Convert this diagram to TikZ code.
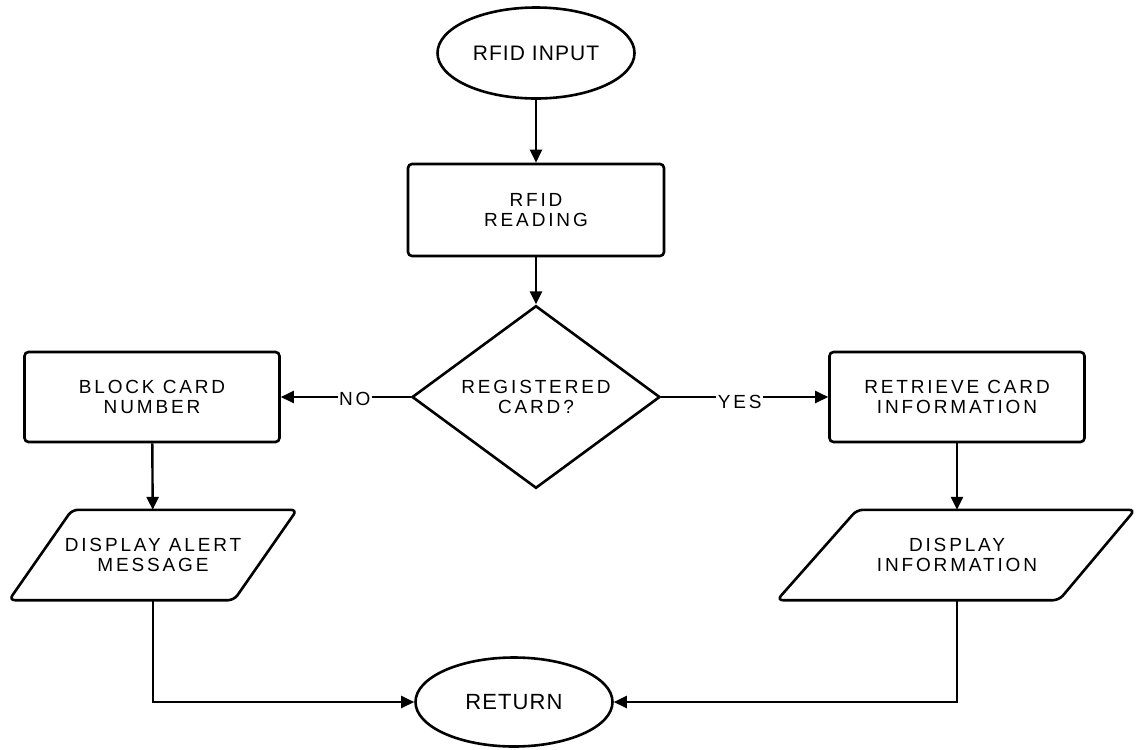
\documentclass[tikz,border=0pt]{standalone}
\usepackage{fontspec}
\setmainfont{Liberation Sans}
\newfontfamily\lblfont[LetterSpace=15]{Liberation Sans}
\newfontfamily\termfont[LetterSpace=5]{Liberation Sans}
\usetikzlibrary{shapes.geometric,arrows.meta,calc}
\begin{document}
\begin{tikzpicture}[x=1pt,y=-1pt,
  txt/.style={font=\lblfont\fontsize{19}{20}\selectfont, align=center},
  box/.style={txt, draw, line width=2.6pt, rounded corners=4pt, minimum width=255pt, minimum height=90pt},
  term/.style={draw, ellipse, line width=2.6pt, minimum width=197pt, minimum height=91pt, inner sep=0pt, font=\termfont\fontsize{21}{22}\selectfont},
  decis/.style={txt, draw, diamond, line width=2.6pt, minimum width=248pt, minimum height=164pt, inner sep=0pt},
  iobox/.style={txt, minimum width=160pt, minimum height=90pt, inner sep=0pt},
  para/.style={line width=2.6pt, rounded corners=6pt},
  conn/.style={line width=2.4pt, -{Triangle[length=13pt,width=12pt]}},
  lab/.style={txt, fill=white, inner sep=1.5pt}
]
\useasboundingbox (0,0) rectangle (1136,750);

\node[term] (in) at (536,53) {RFID INPUT};
\node[box, minimum width=256pt, minimum height=92pt] (read) at (536,210) {RFID\\READING};
\node[decis] (dec) at (536,397) {REGISTERED\\CARD?};
\node[box] (block) at (152,397) {BLOCK CARD\\NUMBER};
\node[box] (retr) at (957,397) {RETRIEVE CARD\\INFORMATION};
\node[iobox] (alert) at (153,555) {DISPLAY ALERT\\MESSAGE};
\node[iobox] (info) at (957,555) {DISPLAY\\INFORMATION};
\node[term, font=\termfont\fontsize{22}{23}\selectfont, minimum height=89pt] (ret) at (514,702) {RETURN};

\draw[para] ($(alert.north)+(-81,0)$) -- ($(alert.north)+(144,0)$) -- ($(alert.south)+(81,0)$) -- ($(alert.south)+(-144,0)$) -- cycle;
\draw[para] ($(info.north)+(-100,0)$) -- ($(info.north)+(178,0)$) -- ($(info.south)+(102,0)$) -- ($(info.south)+(-180,0)$) -- cycle;

\draw[conn] (in) -- (read);
\draw[conn] (read) -- (dec);
\draw[conn] (dec.west) -- node[lab, pos=0.43, yshift=-2pt] {NO} (block.east);
\draw[conn] (dec.east) -- node[lab, pos=0.47, yshift=-5pt] {YES} (retr.west);
\draw[conn] (block) -- (alert);
\draw[conn] (retr) -- (info);
\draw[conn] (alert.south) |- (ret.west);
\draw[conn] (info.south) |- (ret.east);
\end{tikzpicture}
\end{document}
